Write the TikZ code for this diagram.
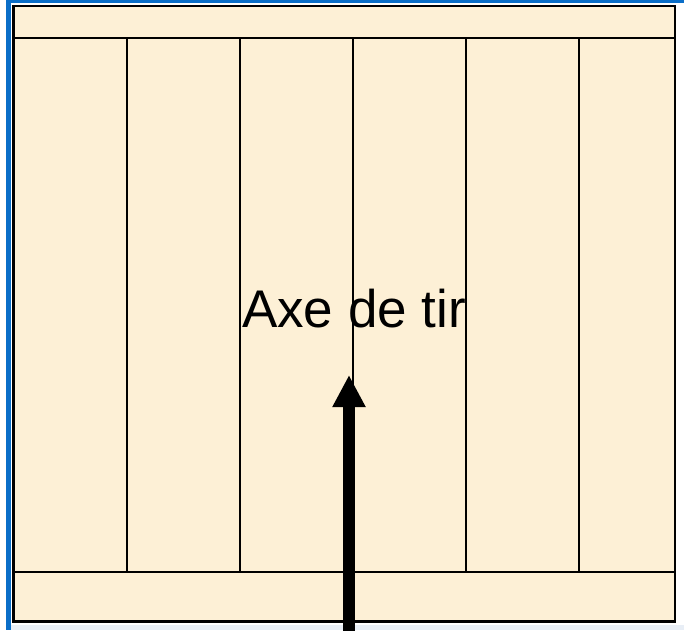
\documentclass[tikz,border=0pt]{standalone}
\usepackage{fontspec}
\setmainfont{Liberation Sans}
\usetikzlibrary{arrows.meta}
\definecolor{parch}{RGB}{253,240,214}
\definecolor{winblue}{RGB}{10,110,200}
\definecolor{paleedge}{RGB}{232,238,246}
\tikzset{
  frameline/.style={draw=black,line width=2.4pt},
  divline/.style={draw=black,line width=1.6pt},
  shotarrow/.style={line width=12pt,-{Triangle[width=31pt,length=32pt]}},
  label/.style={font=\fontsize{53}{60}\selectfont,inner sep=0pt,anchor=base}
}
\begin{document}
\begin{tikzpicture}[x=1pt,y=-1pt]
\useasboundingbox (0,0) rectangle (684,630);
\fill[white] (0,0) rectangle (684,630);
\fill[paleedge] (11,625) rectangle (684,630);
\fill[winblue] (6,0) rectangle (684,3);
\fill[winblue] (6,0) rectangle (11,630);
% parchment panel
\fill[parch] (13.5,6) rectangle (675,621.5);
\draw[frameline] (13.5,6) rectangle (675,621.5);
\draw[divline] (13.5,38) -- (675,38);
\draw[divline] (13.5,572) -- (675,572);
\foreach \xx in {127,240,353,466,579}
  \draw[divline] (\xx,38) -- (\xx,572);
% label
\node[label] (axe) at (354,327) {Axe de tir};
% arrow
\coordinate (foot) at (349,636);
\coordinate (tip) at (349,375);
\draw[shotarrow] (foot) -- (tip);
\end{tikzpicture}
\end{document}
